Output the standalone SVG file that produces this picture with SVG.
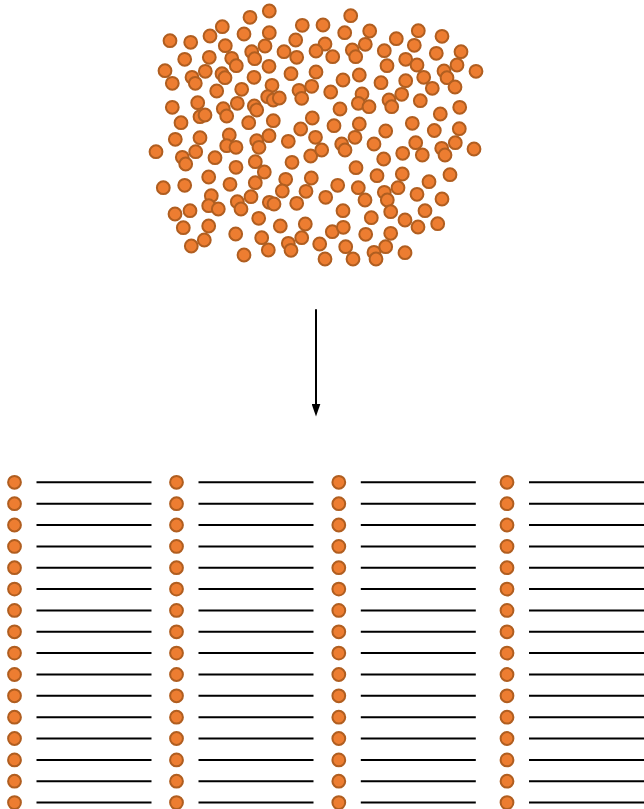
<svg xmlns="http://www.w3.org/2000/svg" xmlns:xlink="http://www.w3.org/1999/xlink" width="644" height="809" viewBox="0 0 644 809">
  <style>
    .dot { fill: #ED7D31; stroke: #B05E20; stroke-width: 2; }
    .rule { stroke: #000; stroke-width: 2; fill: none; }
    .arrow { stroke: #000; stroke-width: 2; fill: none; }
  </style>
  <defs>
    <circle id="dot" class="dot" r="6.4"/>
    <!-- arrowhead drawn along +x so orient="auto" turns it with the line -->
    <marker id="head" viewBox="0 0 13 9" refX="1" refY="4.5" markerWidth="13" markerHeight="9" markerUnits="userSpaceOnUse" orient="auto">
      <path d="M0,0 L13,4.5 L0,9 Z" fill="#000"/>
    </marker>
    <!-- one column of the sorted list: bullet + rule per row -->
    <g id="column">
      <use href="#dot" x="0" y="482.3"/><use href="#dot" x="0" y="503.7"/>
      <use href="#dot" x="0" y="525"/><use href="#dot" x="0" y="546.4"/>
      <use href="#dot" x="0" y="567.7"/><use href="#dot" x="0" y="589.1"/>
      <use href="#dot" x="0" y="610.4"/><use href="#dot" x="0" y="631.8"/>
      <use href="#dot" x="0" y="653.1"/><use href="#dot" x="0" y="674.5"/>
      <use href="#dot" x="0" y="695.8"/><use href="#dot" x="0" y="717.2"/>
      <use href="#dot" x="0" y="738.5"/><use href="#dot" x="0" y="759.9"/>
      <use href="#dot" x="0" y="781.2"/><use href="#dot" x="0" y="802.6"/>
      <path class="rule" d="M22,482.3H137M22,503.7H137M22,525H137M22,546.4H137M22,567.7H137M22,589.1H137M22,610.4H137M22,631.8H137M22,653.1H137M22,674.5H137M22,695.8H137M22,717.2H137M22,738.5H137M22,759.9H137M22,781.2H137M22,802.6H137"/>
    </g>
  </defs>

  <rect width="644" height="809" fill="#fff"/>

  <!-- unordered cloud of items -->
  <g id="cloud">
    <use href="#dot" x="269.3" y="11"/>
    <use href="#dot" x="250" y="17.3"/>
    <use href="#dot" x="350.7" y="15.7"/>
    <use href="#dot" x="222.3" y="26.7"/>
    <use href="#dot" x="302.3" y="25.3"/>
    <use href="#dot" x="323" y="25"/>
    <use href="#dot" x="344.7" y="32.7"/>
    <use href="#dot" x="369.7" y="31"/>
    <use href="#dot" x="418.3" y="30.7"/>
    <use href="#dot" x="442" y="36.3"/>
    <use href="#dot" x="396.3" y="38.7"/>
    <use href="#dot" x="170" y="40.7"/>
    <use href="#dot" x="190.7" y="42.3"/>
    <use href="#dot" x="210" y="36"/>
    <use href="#dot" x="244" y="34"/>
    <use href="#dot" x="269.3" y="32.7"/>
    <use href="#dot" x="295.7" y="40"/>
    <use href="#dot" x="225.3" y="45.7"/>
    <use href="#dot" x="265" y="46"/>
    <use href="#dot" x="325" y="44"/>
    <use href="#dot" x="365.3" y="44.3"/>
    <use href="#dot" x="414.3" y="45.3"/>
    <use href="#dot" x="384.3" y="50.7"/>
    <use href="#dot" x="436.3" y="53.3"/>
    <use href="#dot" x="461" y="51.7"/>
    <use href="#dot" x="251.7" y="51.7"/>
    <use href="#dot" x="284" y="51.7"/>
    <use href="#dot" x="316" y="51"/>
    <use href="#dot" x="352.3" y="50"/>
    <use href="#dot" x="355.7" y="56.7"/>
    <use href="#dot" x="332.7" y="56.7"/>
    <use href="#dot" x="254.7" y="58.7"/>
    <use href="#dot" x="296.7" y="57.3"/>
    <use href="#dot" x="184.7" y="59.3"/>
    <use href="#dot" x="209.3" y="57.3"/>
    <use href="#dot" x="231.7" y="58.3"/>
    <use href="#dot" x="236.3" y="65.7"/>
    <use href="#dot" x="269" y="66.3"/>
    <use href="#dot" x="387" y="65.7"/>
    <use href="#dot" x="405.7" y="59.3"/>
    <use href="#dot" x="417" y="65"/>
    <use href="#dot" x="457" y="65"/>
    <use href="#dot" x="476" y="71.3"/>
    <use href="#dot" x="165" y="70.7"/>
    <use href="#dot" x="205.3" y="71.3"/>
    <use href="#dot" x="192" y="77.3"/>
    <use href="#dot" x="195.3" y="83.3"/>
    <use href="#dot" x="222" y="73.7"/>
    <use href="#dot" x="225" y="77.7"/>
    <use href="#dot" x="254" y="77.3"/>
    <use href="#dot" x="291" y="73.7"/>
    <use href="#dot" x="316" y="72"/>
    <use href="#dot" x="172.3" y="83.3"/>
    <use href="#dot" x="343" y="80"/>
    <use href="#dot" x="359.3" y="75"/>
    <use href="#dot" x="381" y="82.7"/>
    <use href="#dot" x="405.7" y="80.7"/>
    <use href="#dot" x="423.7" y="77.3"/>
    <use href="#dot" x="444" y="71"/>
    <use href="#dot" x="447" y="77.7"/>
    <use href="#dot" x="455" y="87"/>
    <use href="#dot" x="432.3" y="88.3"/>
    <use href="#dot" x="241.7" y="89.3"/>
    <use href="#dot" x="216.7" y="91"/>
    <use href="#dot" x="272" y="85.3"/>
    <use href="#dot" x="267.7" y="96.7"/>
    <use href="#dot" x="273.3" y="100"/>
    <use href="#dot" x="279.3" y="98"/>
    <use href="#dot" x="299" y="90.3"/>
    <use href="#dot" x="301.7" y="98.3"/>
    <use href="#dot" x="311.7" y="86.3"/>
    <use href="#dot" x="330.7" y="92"/>
    <use href="#dot" x="362" y="94"/>
    <use href="#dot" x="358.3" y="103.3"/>
    <use href="#dot" x="369" y="106.7"/>
    <use href="#dot" x="389" y="100"/>
    <use href="#dot" x="391.7" y="106.7"/>
    <use href="#dot" x="401.7" y="94.3"/>
    <use href="#dot" x="420.3" y="100.7"/>
    <use href="#dot" x="340" y="109"/>
    <use href="#dot" x="459.7" y="107.3"/>
    <use href="#dot" x="440.3" y="114"/>
    <use href="#dot" x="172.3" y="107.3"/>
    <use href="#dot" x="197.7" y="102.7"/>
    <use href="#dot" x="200" y="116.7"/>
    <use href="#dot" x="205" y="115"/>
    <use href="#dot" x="223.3" y="108.7"/>
    <use href="#dot" x="226.7" y="116"/>
    <use href="#dot" x="237.3" y="103.3"/>
    <use href="#dot" x="254.3" y="106"/>
    <use href="#dot" x="256.7" y="110"/>
    <use href="#dot" x="273.3" y="120.7"/>
    <use href="#dot" x="248.7" y="122.7"/>
    <use href="#dot" x="181" y="122.7"/>
    <use href="#dot" x="312.3" y="118"/>
    <use href="#dot" x="300.7" y="129"/>
    <use href="#dot" x="334" y="125.7"/>
    <use href="#dot" x="359.3" y="124"/>
    <use href="#dot" x="385.7" y="131"/>
    <use href="#dot" x="412.3" y="123.3"/>
    <use href="#dot" x="434.3" y="130.5"/>
    <use href="#dot" x="459.3" y="128.7"/>
    <use href="#dot" x="175.3" y="139.3"/>
    <use href="#dot" x="200" y="137.7"/>
    <use href="#dot" x="229.3" y="135"/>
    <use href="#dot" x="226.7" y="145.7"/>
    <use href="#dot" x="236" y="147.3"/>
    <use href="#dot" x="256.7" y="140.7"/>
    <use href="#dot" x="259" y="147.3"/>
    <use href="#dot" x="269" y="135.7"/>
    <use href="#dot" x="288.3" y="141.3"/>
    <use href="#dot" x="315.5" y="137.3"/>
    <use href="#dot" x="156" y="151.7"/>
    <use href="#dot" x="182.3" y="157.3"/>
    <use href="#dot" x="185.7" y="164"/>
    <use href="#dot" x="195.7" y="151.7"/>
    <use href="#dot" x="215" y="157.7"/>
    <use href="#dot" x="255.3" y="161.7"/>
    <use href="#dot" x="236" y="167.3"/>
    <use href="#dot" x="310.7" y="156"/>
    <use href="#dot" x="292" y="162.3"/>
    <use href="#dot" x="264.3" y="172"/>
    <use href="#dot" x="208.7" y="177"/>
    <use href="#dot" x="163.3" y="187.7"/>
    <use href="#dot" x="184.7" y="185.3"/>
    <use href="#dot" x="230" y="184.3"/>
    <use href="#dot" x="255.3" y="182.7"/>
    <use href="#dot" x="285.7" y="179.3"/>
    <use href="#dot" x="311.3" y="178"/>
    <use href="#dot" x="282.3" y="191"/>
    <use href="#dot" x="306" y="191.3"/>
    <use href="#dot" x="211.3" y="195.7"/>
    <use href="#dot" x="208.7" y="205.7"/>
    <use href="#dot" x="218.3" y="209"/>
    <use href="#dot" x="237.3" y="201.7"/>
    <use href="#dot" x="241" y="209"/>
    <use href="#dot" x="251" y="196.7"/>
    <use href="#dot" x="269.3" y="202.3"/>
    <use href="#dot" x="274" y="204"/>
    <use href="#dot" x="296.7" y="203.3"/>
    <use href="#dot" x="175" y="214"/>
    <use href="#dot" x="190" y="210.7"/>
    <use href="#dot" x="258.7" y="218.3"/>
    <use href="#dot" x="183.3" y="227.7"/>
    <use href="#dot" x="208.7" y="226"/>
    <use href="#dot" x="235.7" y="234"/>
    <use href="#dot" x="204.3" y="240"/>
    <use href="#dot" x="191.3" y="246"/>
    <use href="#dot" x="261.7" y="237.7"/>
    <use href="#dot" x="244" y="255"/>
    <use href="#dot" x="280.3" y="226"/>
    <use href="#dot" x="305.3" y="224"/>
    <use href="#dot" x="301.7" y="237.7"/>
    <use href="#dot" x="288.3" y="243.3"/>
    <use href="#dot" x="291" y="250.3"/>
    <use href="#dot" x="268.3" y="250"/>
    <use href="#dot" x="321.7" y="150"/>
    <use href="#dot" x="341.7" y="144"/>
    <use href="#dot" x="345" y="150"/>
    <use href="#dot" x="355" y="137.3"/>
    <use href="#dot" x="374" y="144"/>
    <use href="#dot" x="415.7" y="142.7"/>
    <use href="#dot" x="441.7" y="148.3"/>
    <use href="#dot" x="445" y="155"/>
    <use href="#dot" x="455.3" y="142.7"/>
    <use href="#dot" x="474" y="149"/>
    <use href="#dot" x="402.7" y="153.3"/>
    <use href="#dot" x="422.3" y="155"/>
    <use href="#dot" x="383.7" y="159"/>
    <use href="#dot" x="356" y="167.7"/>
    <use href="#dot" x="402.3" y="174"/>
    <use href="#dot" x="377" y="175.7"/>
    <use href="#dot" x="337.7" y="185.3"/>
    <use href="#dot" x="358.3" y="187.7"/>
    <use href="#dot" x="365" y="200"/>
    <use href="#dot" x="384.3" y="192.3"/>
    <use href="#dot" x="387.3" y="200"/>
    <use href="#dot" x="398" y="187.7"/>
    <use href="#dot" x="429" y="181.7"/>
    <use href="#dot" x="450" y="174.7"/>
    <use href="#dot" x="417" y="194.3"/>
    <use href="#dot" x="442" y="199"/>
    <use href="#dot" x="325.7" y="197.3"/>
    <use href="#dot" x="343" y="210.7"/>
    <use href="#dot" x="390.7" y="211.7"/>
    <use href="#dot" x="371.3" y="217.7"/>
    <use href="#dot" x="425" y="210.7"/>
    <use href="#dot" x="405" y="220"/>
    <use href="#dot" x="418" y="227"/>
    <use href="#dot" x="437.7" y="223.7"/>
    <use href="#dot" x="332.3" y="231.7"/>
    <use href="#dot" x="343.3" y="227.3"/>
    <use href="#dot" x="365.7" y="234.3"/>
    <use href="#dot" x="390.7" y="233.3"/>
    <use href="#dot" x="319.7" y="244"/>
    <use href="#dot" x="345.7" y="246.7"/>
    <use href="#dot" x="385.7" y="246.7"/>
    <use href="#dot" x="374" y="252.3"/>
    <use href="#dot" x="376" y="259"/>
    <use href="#dot" x="405" y="252.7"/>
    <use href="#dot" x="325" y="259"/>
    <use href="#dot" x="353" y="259"/>
  </g>

  <!-- connector: cloud to list -->
  <g id="connectors">
    <path class="arrow" d="M316,309.3V404.5" marker-end="url(#head)"/>
  </g>

  <!-- ordered list, four columns -->
  <g id="column-1"><use href="#column" x="14.5" y="0"/></g>
  <g id="column-2"><use href="#column" x="176.5" y="0"/></g>
  <g id="column-3"><use href="#column" x="338.8" y="0"/></g>
  <g id="column-4"><use href="#column" x="507" y="0"/></g>
</svg>
